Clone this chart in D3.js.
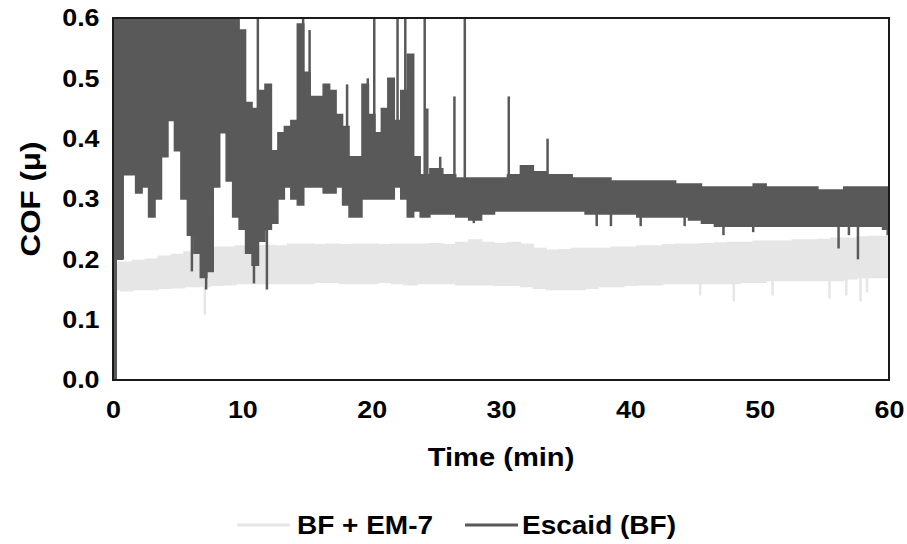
<!DOCTYPE html>
<html><head><meta charset="utf-8">
<script src="https://cdn.jsdelivr.net/npm/d3@7"></script>
<style>
html,body{margin:0;padding:0;background:#fff;}
svg{display:block;font-family:"Liberation Sans",Arial,sans-serif;font-weight:bold;}
</style></head>
<body><svg id="c" width="907" height="544"></svg>
<script>
// ---- Data ----
// Escaid (BF): envelope of the noisy trace (upper / lower) at sampled times
const escT  = [0,0.5,1,1.5,2,2.5,3,3.5,4,4.5,5,5.5,6,6.5,7,7.5,8,8.5,9,9.5,10,10.5,11,11.5,12,12.5,13,13.5,14,14.5,15,15.5,16,16.5,17,17.5,18,18.5,19,19.5,20,20.5,21,21.5,22,22.5,23,23.5,24,25,26,27,28,29,30,31,32,33,34,35,36,37,38,39,40,41,42,43,44,45,46,47,48,49,50,51,52,53,54,55,56,57,58,59,60];
const escHi = [0.62,0.62,0.62,0.62,0.62,0.62,0.62,0.62,0.62,0.62,0.62,0.62,0.62,0.62,0.62,0.62,0.62,0.62,0.60,0.62,0.58,0.46,0.45,0.48,0.49,0.38,0.41,0.42,0.43,0.59,0.51,0.47,0.47,0.49,0.48,0.44,0.42,0.37,0.37,0.49,0.44,0.41,0.45,0.50,0.43,0.48,0.54,0.37,0.34,0.35,0.34,0.335,0.335,0.335,0.335,0.34,0.355,0.345,0.34,0.34,0.335,0.335,0.335,0.33,0.33,0.33,0.33,0.33,0.325,0.325,0.32,0.32,0.32,0.32,0.325,0.32,0.32,0.32,0.32,0.315,0.315,0.32,0.32,0.32,0.32];
const escLo = [0.0,0.20,0.34,0.34,0.31,0.32,0.27,0.30,0.37,0.43,0.38,0.30,0.24,0.21,0.17,0.18,0.32,0.41,0.33,0.27,0.25,0.21,0.19,0.23,0.25,0.26,0.30,0.32,0.30,0.29,0.32,0.32,0.32,0.31,0.31,0.32,0.29,0.27,0.27,0.30,0.30,0.30,0.30,0.30,0.32,0.30,0.27,0.28,0.27,0.275,0.275,0.27,0.265,0.275,0.28,0.28,0.28,0.28,0.28,0.28,0.28,0.275,0.275,0.275,0.275,0.27,0.27,0.27,0.27,0.265,0.26,0.255,0.255,0.255,0.255,0.255,0.255,0.255,0.255,0.255,0.255,0.255,0.255,0.255,0.25];
// Escaid (BF): isolated spikes [time, COF]
const escSpikeT = [11.2,14.7,15.2,18.1,19.7,20.2,22.0,22.6,24.1,24.3,25.3,26.4,27.2,30.6,33.6,0.75,6.1,7.2,10.9,11.9,27.9,37.4,38.5,40.8,44.2,47.2,49.5,56.1,56.9,57.6,59.9];
const escSpikeV = [0.62,0.62,0.58,0.49,0.50,0.62,0.62,0.62,0.62,0.45,0.37,0.47,0.62,0.47,0.40,0.20,0.18,0.15,0.16,0.15,0.26,0.255,0.255,0.255,0.255,0.24,0.245,0.218,0.24,0.20,0.24];
// BF + EM-7 envelope
const bfT  = [0.2,1,2,3,4,5,6,7,8,9,10,11,12,13,14,15,16,17,18,19,20,21,22,23,24,25,26,27,28,29,30,31,32,33,34,35,36,37,38,39,40,41,42,43,44,45,46,47,48,49,50,51,52,53,54,55,56,57,58,59,60];
const bfHi = [0.195,0.195,0.198,0.20,0.205,0.208,0.212,0.215,0.22,0.22,0.222,0.222,0.223,0.222,0.225,0.225,0.224,0.225,0.224,0.225,0.225,0.224,0.225,0.225,0.225,0.226,0.224,0.228,0.232,0.228,0.226,0.228,0.225,0.218,0.215,0.216,0.218,0.218,0.218,0.22,0.22,0.222,0.222,0.224,0.225,0.225,0.226,0.227,0.228,0.228,0.23,0.23,0.23,0.232,0.232,0.233,0.235,0.235,0.237,0.238,0.238];
const bfLo = [0.15,0.148,0.15,0.15,0.152,0.153,0.155,0.155,0.157,0.158,0.16,0.16,0.16,0.16,0.16,0.16,0.162,0.162,0.16,0.16,0.16,0.162,0.16,0.158,0.16,0.16,0.16,0.158,0.158,0.158,0.157,0.157,0.155,0.152,0.15,0.15,0.15,0.152,0.155,0.155,0.157,0.158,0.158,0.16,0.16,0.16,0.16,0.16,0.16,0.162,0.162,0.165,0.165,0.165,0.165,0.165,0.165,0.168,0.17,0.17,0.17];
const bfSpikeT = [7.1,45.4,48.0,51.0,55.4,56.7,57.8,58.3];
const bfSpikeV = [0.108,0.14,0.13,0.14,0.135,0.14,0.13,0.145];
// Axis ticks & labels
const xTicks = [0,10,20,30,40,50,60];
const yTicks = [0.0,0.1,0.2,0.3,0.4,0.5,0.6];
const seriesNames = ["BF + EM-7","Escaid (BF)"];
const seriesColors = ["#e6e6e6","#595959"];

// ---- Layout ----
const L=113,R=889,T=18,B=380, SX=1.12;
const svg=d3.select("#c");
const x=d3.scaleLinear().domain([0,60]).range([L,R]);
const y=d3.scaleLinear().domain([0,0.6]).range([B,T]);

svg.append("defs").append("clipPath").attr("id","clip")
  .append("rect").attr("x",L).attr("y",T).attr("width",R-L).attr("height",B-T);
const g=svg.append("g").attr("clip-path","url(#clip)");

function band(ts,hi,lo,color){
  const d=ts.map((t,i)=>({t,hi:hi[i],lo:lo[i]}));
  g.append("path").datum(d)
    .attr("d",d3.area().x(p=>x(p.t)).y0(p=>y(p.lo)).y1(p=>y(p.hi)).curve(d3.curveStep))
    .attr("fill",color).attr("stroke",color).attr("stroke-width",1.5).attr("stroke-linejoin","miter");
}
function spikes(ts,vs,base,color){
  ts.forEach((t,i)=>{
    g.append("line").attr("x1",x(t)).attr("x2",x(t))
      .attr("y1",y(base(t))).attr("y2",y(vs[i]))
      .attr("stroke",color).attr("stroke-width",2.5);
  });
}
function mid(ts,hi,lo){return t=>{const i=Math.min(ts.length-1,Math.max(0,d3.bisectLeft(ts,t)));return (hi[i]+lo[i])/2;};}

band(bfT,bfHi,bfLo,seriesColors[0]);
spikes(bfSpikeT,bfSpikeV,mid(bfT,bfHi,bfLo),seriesColors[0]);
band(escT,escHi,escLo,seriesColors[1]);
spikes(escSpikeT,escSpikeV,mid(escT,escHi,escLo),seriesColors[1]);

// frame
svg.append("rect").attr("x",L).attr("y",T).attr("width",R-L).attr("height",B-T)
  .attr("fill","none").attr("stroke","#1a1a1a").attr("stroke-width",2);

// axes
const xa=svg.append("g").attr("transform",`translate(0,${B})`)
  .call(d3.axisBottom(x).tickValues(xTicks).tickSize(0).tickPadding(21).tickFormat(d3.format("d")));
const ya=svg.append("g").attr("transform",`translate(${L},0)`)
  .call(d3.axisLeft(y).tickValues(yTicks).tickSize(0).tickPadding(12).tickFormat(d3.format(".1f")));
[xa,ya].forEach(a=>{a.select(".domain").remove();
  a.selectAll("text").attr("font-family","Liberation Sans, Arial, sans-serif").attr("font-weight","bold")
   .attr("font-size",24).attr("fill","#000").attr("transform",`scale(${SX},1)`);});

function label(px,py,rot,size,anchor,txt){
  svg.append("text").attr("transform",`translate(${px},${py}) rotate(${rot}) scale(${SX},1)`)
    .attr("text-anchor",anchor).attr("font-size",size).attr("fill","#000").text(txt);
}
label((L+R)/2,466,0,26,"middle","Time (min)");
label(40,(T+B)/2,-90,28,"middle","COF (μ)");

// legend
const lg=[{x0:237,x1:290,tx:297},{x0:465,x1:518,tx:522}];
lg.forEach((p,i)=>{
  svg.append("line").attr("x1",p.x0).attr("x2",p.x1).attr("y1",525).attr("y2",525)
    .attr("stroke",seriesColors[i]).attr("stroke-width",3);
  label(p.tx,534,0,25,"start",seriesNames[i]);
});
</script></body></html>
